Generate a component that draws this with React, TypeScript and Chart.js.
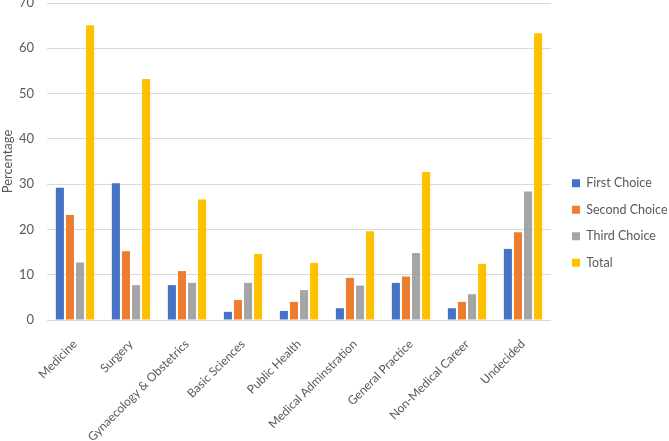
import React, { useEffect, useRef } from "react";
import { Chart, registerables } from "chart.js";

Chart.register(...registerables);

const categories = [
  "Medicine",
  "Surgery",
  "Gynaecology & Obstetrics",
  "Basic Sciences",
  "Public Health",
  "Medical Adminstration",
  "General Practice",
  "Non-Medical Career",
  "Undecided",
];
const firstChoice = [29.2, 30.2, 7.7, 1.8, 2.0, 2.6, 8.2, 2.6, 15.7];
const secondChoice = [23.2, 15.2, 10.8, 4.4, 4.0, 9.3, 9.6, 4.0, 19.4];
const thirdChoice = [12.7, 7.7, 8.2, 8.2, 6.6, 7.6, 14.8, 5.7, 28.4];
const total = [65.1, 53.2, 26.6, 14.6, 12.6, 19.6, 32.7, 12.4, 63.3];

const FONT = "Lato, 'Open Sans', sans-serif";
const TEXT = "#595959";

const legendShift = {
  id: "legendShift",
  afterLayout(chart: any) {
    const lg = chart.legend;
    if (lg) {
      lg.left += 7;
      lg.right += 7;
      lg.top += 1;
      lg.bottom += 1;
    }
  },
};

export default function App() {
  const ref = useRef<HTMLCanvasElement>(null);
  useEffect(() => {
    const ctx = ref.current!;
    const chart = new Chart(ctx, {
      type: "bar",
      data: {
        labels: categories,
        datasets: [
          { label: "First Choice", data: firstChoice, backgroundColor: "#4472C4" },
          { label: "Second Choice", data: secondChoice, backgroundColor: "#ED7D31" },
          { label: "Third Choice", data: thirdChoice, backgroundColor: "#A5A5A5" },
          { label: "Total", data: total, backgroundColor: "#FFC000" },
        ],
      },
      plugins: [legendShift],
      options: {
        responsive: false,
        animation: false,
        layout: { padding: { top: 3, right: 0, left: 0, bottom: 0 } },
        datasets: { bar: { categoryPercentage: 0.72, barPercentage: 0.8 } },
        plugins: {
          tooltip: { enabled: false },
          legend: {
            position: "right",
            align: "center",
            maxWidth: 118,
            labels: {
              boxWidth: 8,
              boxHeight: 8,
              padding: 14,
              color: TEXT,
              font: { family: FONT, size: 12.5 },
            },
          },
        },
        scales: {
          x: {
            grid: { display: false },
            border: { display: false },
            ticks: {
              minRotation: 45,
              maxRotation: 45,
              autoSkip: false,
              padding: 9,
              color: TEXT,
              font: { family: FONT, size: 12 },
            },
            afterFit: (s: any) => {
              s.height = 121;
            },
          },
          y: {
            min: 0,
            max: 70,
            ticks: {
              stepSize: 10,
              color: TEXT,
              padding: 13,
              font: { family: FONT, size: 13 },
            },
            grid: { color: "#D9D9D9", drawTicks: false, lineWidth: 1 },
            border: { display: false },
            title: {
              display: true,
              text: "Percentage",
              color: TEXT,
              padding: 0,
              font: { family: FONT, size: 13 },
            },
            afterFit: (s: any) => {
              s.paddingTop = 0;
              s.width = 47;
            },
          },
        },
      },
    });
    return () => chart.destroy();
  }, []);
  return (
    <div style={{ position: "absolute", left: 0, top: 0, width: 669, height: 441 }}>
      <canvas ref={ref} width={669} height={441} />
    </div>
  );
}
